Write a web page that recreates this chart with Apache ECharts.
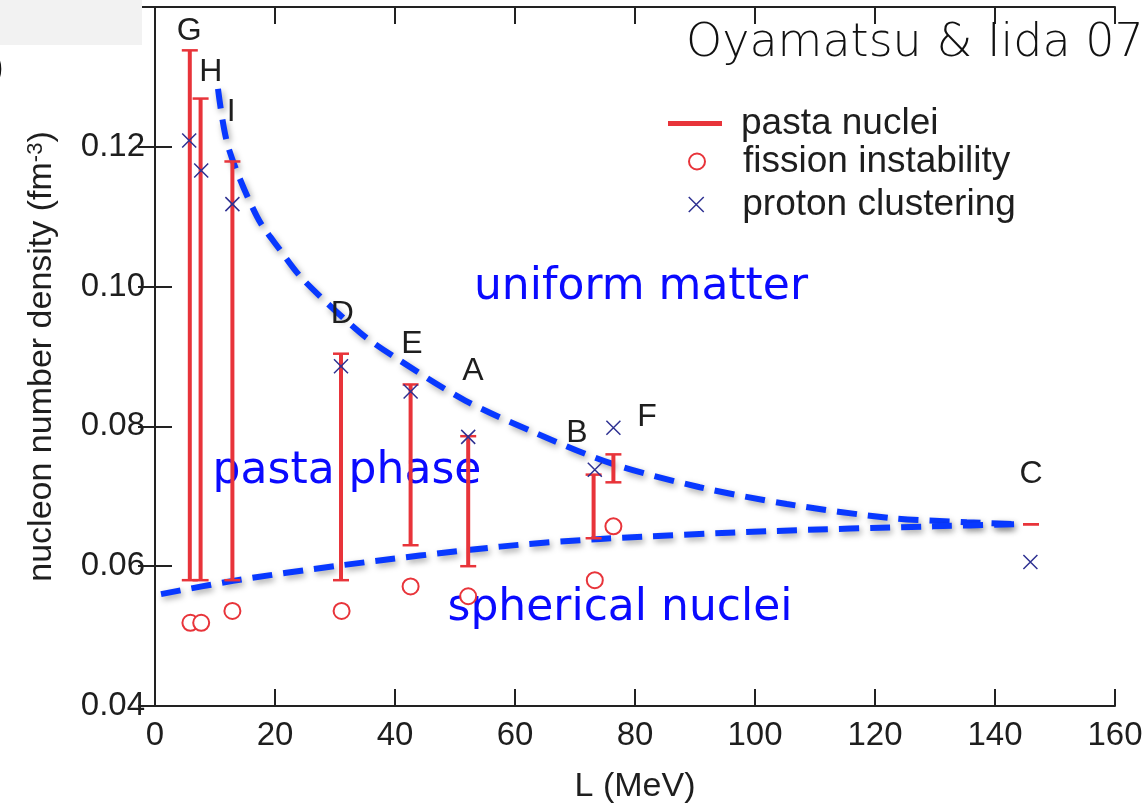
<!DOCTYPE html>
<html lang="en">
<head>
    <meta charset="UTF-8">
    <title>pasta phase vs L</title>
    <style>
        html, body { margin: 0; padding: 0; background: #fff; }
    </style>
</head>
<body>
<div id="container" style="width: 1147px;height:809px;"></div>

<script src="https://cdn.jsdelivr.net/npm/echarts@6/dist/echarts.min.js"></script>
<script type="text/javascript">

// pasta nuclei ranges (vertical red bars)
var pastaL    = [5.8, 7.6, 12.9, 31.0, 42.6, 52.2, 73.1, 76.4, 146.0];
var pastaLow  = [0.0580, 0.0580, 0.0580, 0.0580, 0.0630, 0.0600, 0.0640, 0.0720, 0.0660];
var pastaHigh = [0.1338, 0.1269, 0.1179, 0.0904, 0.0860, 0.0786, 0.0731, 0.0760, 0.0660];

// fission instability (red circles)
var fissionL = [5.9, 7.7, 12.9, 31.1, 42.6, 52.2, 73.3, 76.4];
var fissionN = [0.0519, 0.0519, 0.0536, 0.0536, 0.0571, 0.0557, 0.0580, 0.0657];

// proton clustering (blue crosses)
var protonL = [5.7, 7.7, 12.9, 31.0, 42.6, 52.2, 73.3, 76.4, 145.9];
var protonN = [0.1209, 0.1166, 0.1118, 0.0886, 0.0850, 0.0785, 0.0738, 0.0798, 0.0606];

// dashed boundaries
var upperL = [10.5, 12.2, 17, 20.8, 24.7, 34.2, 40.5, 51.7, 63.3, 76.4, 90.8, 105.3, 122.5, 135.3, 143.7];
var upperN = [0.1283, 0.1200, 0.1100, 0.1053, 0.1010, 0.0934, 0.0896, 0.0837, 0.0791, 0.0746, 0.0713, 0.0689, 0.0669, 0.0663, 0.0660];
var lowerL = [1, 13, 30.8, 57.5, 74.2, 102, 129.7, 143.7];
var lowerN = [0.0560, 0.0579, 0.0601, 0.0628, 0.0639, 0.0650, 0.0657, 0.0660];

// model letters
var letterNames = ['G', 'H', 'I', 'D', 'E', 'A', 'B', 'F', 'C'];
var letterL = [5.7, 9.3, 12.7, 31.2, 42.8, 53.0, 70.3, 82.0, 146.0];
var letterN = [0.1366, 0.1307, 0.1250, 0.0961, 0.0917, 0.0879, 0.0791, 0.0813, 0.0731];

// region names
var regionNames = ['uniform matter', 'pasta phase', 'spherical nuclei'];
var regionL = [81.0, 32.0, 77.5];
var regionN = [0.0999, 0.0736, 0.0539];

var xTicks = [0, 160, 20];
var yTicks = [0.04, 0.14, 0.02];

var RED = '#e8343a';
var CROSS = '#2e3192';
var DASH = '#0838ff';
var TXT = '#1e1e1e';

function pairs(xs, ys) {
  var out = [];
  for (var i = 0; i < xs.length; i++) out.push([xs[i], ys[i]]);
  return out;
}

var barData = [];
for (var i = 0; i < pastaL.length; i++) {
  barData.push([pastaL[i], pastaLow[i], pastaHigh[i]]);
}
var letterData = [];
for (var i = 0; i < letterNames.length; i++) {
  letterData.push({name: letterNames[i], value: [letterL[i], letterN[i]]});
}
var regionData = [];
for (var i = 0; i < regionNames.length; i++) {
  regionData.push({name: regionNames[i], value: [regionL[i], regionN[i]]});
}

function renderBar(params, api) {
  var lo = api.coord([api.value(0), api.value(1)]);
  var hi = api.coord([api.value(0), api.value(2)]);
  var cap = 8;
  return {
    type: 'group',
    children: [
      {type: 'line', shape: {x1: lo[0], y1: lo[1], x2: hi[0], y2: hi[1]}, style: {stroke: RED, lineWidth: 4}},
      {type: 'line', shape: {x1: lo[0] - cap, y1: lo[1], x2: lo[0] + cap, y2: lo[1]}, style: {stroke: RED, lineWidth: 2.5}},
      {type: 'line', shape: {x1: hi[0] - cap, y1: hi[1], x2: hi[0] + cap, y2: hi[1]}, style: {stroke: RED, lineWidth: 2.5}}
    ]
  };
}

var sansFont = '"Liberation Sans", Arial, Helvetica, sans-serif';
var dashLine = {
  color: DASH, width: 6, type: [20, 11],
  shadowColor: 'rgba(0,0,0,0.35)', shadowBlur: 6, shadowOffsetX: 2, shadowOffsetY: 3
};
var axisLineStyle = {lineStyle: {color: '#222', width: 2}};
var tickStyle = {inside: true, length: 17, lineStyle: {color: '#222', width: 2}};

var legendText = {fontSize: 37, color: TXT, fontFamily: sansFont};

var dom = document.getElementById('container');
var myChart = echarts.init(dom);
var option = {
  animation: false,
  backgroundColor: '#fff',
  title: {
    text: 'Oyamatsu & Iida 07',
    left: 681, top: 16,
    textStyle: {fontSize: 46, fontWeight: 200, color: '#111', fontFamily: '"DejaVu Sans", sans-serif'}
  },
  grid: {left: 155, right: 32, top: 7, bottom: 102},
  legend: [
    {
      orient: 'vertical', left: 663, top: 100, itemWidth: 54, itemHeight: 5,
      textStyle: Object.assign({padding: [0, 0, 0, 14]}, legendText),
      data: [{name: 'pasta nuclei', icon: 'rect', itemStyle: {color: RED}}]
    },
    {
      orient: 'vertical', left: 683, top: 138, itemWidth: 54, itemHeight: 16,
      textStyle: Object.assign({padding: [0, 0, 0, 14]}, legendText),
      data: [{name: 'fission instability', icon: 'emptyCircle'}]
    },
    {
      orient: 'vertical', left: 683, top: 181, itemWidth: 54, itemHeight: 15,
      textStyle: Object.assign({padding: [0, 0, 0, 14]}, legendText),
      data: [{name: 'proton clustering', icon: 'path://M0,0L10,10M0,10L10,0',
        itemStyle: {color: CROSS, borderColor: CROSS, borderWidth: 1.5}}]
    }
  ],
  xAxis: [
    {
      type: 'value', min: xTicks[0], max: xTicks[1], interval: xTicks[2],
      name: 'L (MeV)', nameLocation: 'middle', nameGap: 64,
      nameTextStyle: {fontSize: 34, color: TXT, fontFamily: sansFont},
      axisLine: axisLineStyle, axisTick: tickStyle, splitLine: {show: false},
      axisLabel: {fontSize: 33, color: TXT, fontFamily: sansFont, margin: 13}
    },
    {
      type: 'value', position: 'top', min: xTicks[0], max: xTicks[1], interval: xTicks[2],
      axisLine: axisLineStyle, axisTick: tickStyle, splitLine: {show: false},
      axisLabel: {show: false}
    }
  ],
  yAxis: [
    {
      type: 'value', min: yTicks[0], max: yTicks[1], interval: yTicks[2],
      name: 'nucleon number density (fm{sup|-3})', nameLocation: 'middle', nameGap: 96,
      nameTextStyle: {
        fontSize: 34, color: TXT, fontFamily: sansFont,
        rich: {sup: {fontSize: 22, color: TXT, fontFamily: sansFont, verticalAlign: 'top', padding: [0, 0, 12, 0]}}
      },
      axisLine: axisLineStyle, axisTick: tickStyle, splitLine: {show: false},
      axisLabel: {
        fontSize: 33, color: TXT, fontFamily: sansFont, margin: 10,
        formatter: function (v) { return v > 0.139 ? '' : v.toFixed(2); }
      }
    },
    {
      type: 'value', position: 'right', min: yTicks[0], max: yTicks[1], interval: yTicks[2],
      axisLine: axisLineStyle, axisTick: tickStyle, splitLine: {show: false},
      axisLabel: {show: false}
    }
  ],
  series: [
    {
      name: 'upper boundary', type: 'line', data: pairs(upperL, upperN),
      showSymbol: false, smooth: 0.3, lineStyle: dashLine, z: 3
    },
    {
      name: 'lower boundary', type: 'line', data: pairs(lowerL, lowerN),
      showSymbol: false, smooth: 0.3, lineStyle: dashLine, z: 3
    },
    {
      name: 'regions', type: 'scatter', data: regionData, symbolSize: 0, z: 4,
      itemStyle: {opacity: 1},
      label: {
        show: true, position: 'inside', formatter: '{b}',
        fontSize: 44, color: '#0a0aff', fontFamily: '"DejaVu Sans", sans-serif'
      }
    },
    {
      name: 'pasta nuclei', type: 'custom', data: barData, renderItem: renderBar,
      encode: {x: 0, y: [1, 2]}, itemStyle: {color: RED}, z: 5
    },
    {
      name: 'fission instability', type: 'scatter', data: pairs(fissionL, fissionN),
      symbol: 'emptyCircle', symbolSize: 16, z: 6,
      itemStyle: {color: RED, borderColor: RED, borderWidth: 2, opacity: 1}
    },
    {
      name: 'proton clustering', type: 'scatter', data: pairs(protonL, protonN),
      symbol: 'path://M0,0L10,10M0,10L10,0', symbolSize: 14, z: 6,
      itemStyle: {color: CROSS, borderColor: CROSS, borderWidth: 1.5, opacity: 1}
    },
    {
      name: 'letters', type: 'scatter', data: letterData, symbolSize: 0, z: 7,
      itemStyle: {opacity: 1},
      label: {show: true, position: 'inside', formatter: '{b}', fontSize: 32, color: TXT, fontFamily: sansFont}
    }
  ],
  graphic: [
    {type: 'rect', x: 0, y: 0, shape: {width: 142, height: 45}, style: {fill: '#f2f2f2'}, z: 100},
    {type: 'text', x: -9, y: 50, style: {text: ')', fontSize: 38, fill: '#111', fontFamily: sansFont}, z: 100}
  ]
};

myChart.setOption(option);

</script>
</body>
</html>
